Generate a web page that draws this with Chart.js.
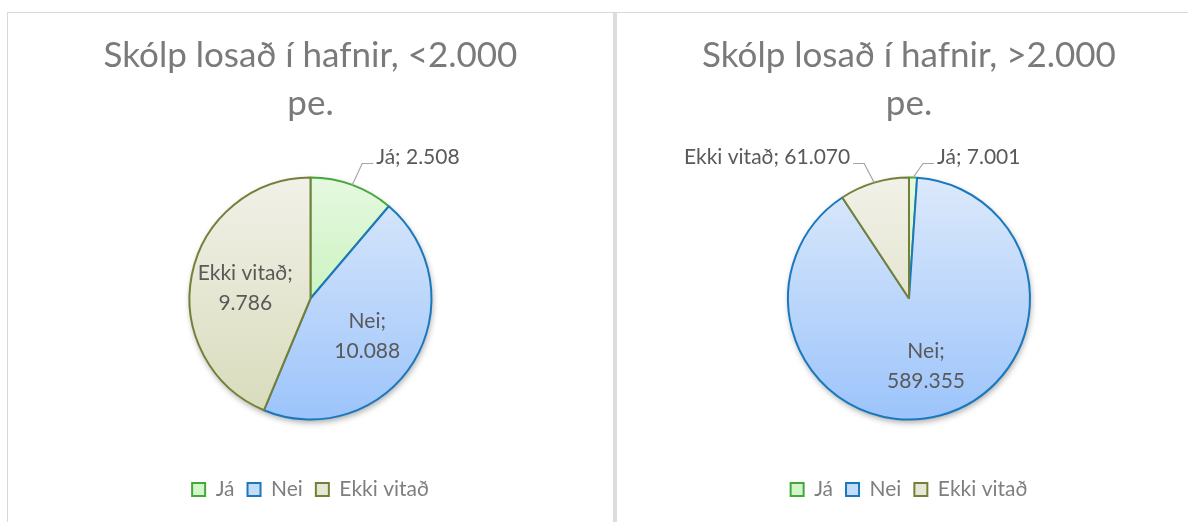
<!DOCTYPE html>
<html>
<head>
<meta charset="utf-8">
<script src="https://cdn.jsdelivr.net/npm/chart.js@4.4.1/dist/chart.umd.min.js"></script>
<style>
  body { margin: 0; background: #fff; width: 1188px; height: 522px; overflow: hidden; position: relative; }
  .frame { position: absolute; left: 7px; top: 12px; width: 1300px; height: 600px;
           border-top: 1px solid #d9d9d9; border-left: 1px solid #d9d9d9; }
  .divider { position: absolute; left: 613px; top: 13px; width: 4px; height: 600px; background: #dcdcdc; }
  .box { position: absolute; top: 13px; height: 509px; }
  #box1 { left: 8px; width: 605px; }
  #box2 { left: 617px; width: 571px; }
</style>
</head>
<body>
<div class="frame"></div>
<div class="divider"></div>
<div class="box" id="box1"><canvas id="chart1"></canvas></div>
<div class="box" id="box2"><canvas id="chart2"></canvas></div>
<script>
// data
const categories = ['Já', 'Nei', 'Ekki vitað'];
const smallPlants = [2508, 10088, 9786];
const largePlants = [7001, 589355, 61070];
const title1 = ['Skólp losað í hafnir, <2.000', 'pe.'];
const title2 = ['Skólp losað í hafnir, >2.000', 'pe.'];

// styles
const topColors = ['#e6f9e0', '#dce9fb', '#f1f1e8'];
const bottomColors = ['#b1eea3', '#9cc4fb', '#d8dbba'];
const legendFills = ['#d3f5ca', '#c4dcfb', '#e6e7d4'];
const edgeColors = ['#45a83a', '#1a78bd', '#748038'];
const pieRadius = 121;
const fontName = 'Lato';

function fmt(v) {
    return String(v).replace(/\B(?=(\d{3})+(?!\d))/g, '.');
}

function sliceFill(c) {
    const area = c.chart.chartArea;
    if (!area) return legendFills[c.dataIndex];
    const cy = (area.top + area.bottom) / 2;
    const g = c.chart.ctx.createLinearGradient(0, cy - pieRadius, 0, cy + pieRadius);
    g.addColorStop(0, topColors[c.dataIndex]);
    g.addColorStop(1, bottomColors[c.dataIndex]);
    return g;
}

// soft shadow under the pie
const pieShadow = {
    id: 'pieShadow',
    beforeDatasetsDraw(chart) {
        const arc = chart.getDatasetMeta(0).data[0];
        if (!arc) return;
        const ctx = chart.ctx;
        ctx.save();
        ctx.shadowColor = 'rgba(0,0,0,0.35)';
        ctx.shadowBlur = 6;
        ctx.shadowOffsetX = 1;
        ctx.shadowOffsetY = 3;
        ctx.fillStyle = '#fff';
        ctx.beginPath();
        ctx.arc(arc.x, arc.y, arc.outerRadius, 0, Math.PI * 2);
        ctx.fill();
        ctx.restore();
    }
};

// "Name; value" labels, small slices go outside with a leader line
const sliceLabels = {
    id: 'sliceLabels',
    afterDatasetsDraw(chart) {
        const ctx = chart.ctx;
        const values = chart.data.datasets[0].data;
        const total = values.reduce((a, b) => a + b, 0);
        ctx.save();
        ctx.font = '21px ' + fontName;
        ctx.fillStyle = '#595959';
        ctx.textBaseline = 'middle';
        chart.getDatasetMeta(0).data.forEach((arc, i) => {
            const p = arc.getProps(['x', 'y', 'startAngle', 'endAngle', 'outerRadius'], true);
            const mid = (p.startAngle + p.endAngle) / 2;
            const name = chart.data.labels[i];
            if (values[i] / total < 0.12) {
                const ex = p.x + Math.cos(mid) * p.outerRadius;
                const ey = p.y + Math.sin(mid) * p.outerRadius;
                const side = Math.cos(mid) >= 0 ? 1 : -1;
                const ly = p.y - p.outerRadius - 20;
                ctx.strokeStyle = '#a6a6a6';
                ctx.lineWidth = 1.2;
                ctx.beginPath();
                ctx.moveTo(ex, ey);
                ctx.lineTo(ex + side * 10, ly + 6);
                ctx.lineTo(ex + side * 21, ly + 6);
                ctx.stroke();
                ctx.textAlign = side > 0 ? 'left' : 'right';
                ctx.fillText(name + '; ' + fmt(values[i]), ex + side * 24, ly);
            } else {
                const r = p.outerRadius * 0.55;
                const cx = p.x + Math.cos(mid) * r;
                const cy = p.y + Math.sin(mid) * r + 3;
                ctx.textAlign = 'center';
                ctx.fillText(name + ';', cx, cy - 15);
                ctx.fillText(fmt(values[i]), cx, cy + 15);
            }
        });
        ctx.restore();
    }
};

function makePie(id, titleLines, values, padLeft) {
    return new Chart(document.getElementById(id), {
        type: 'pie',
        data: {
            labels: categories,
            datasets: [{
                data: values,
                backgroundColor: sliceFill,
                borderColor: edgeColors,
                borderWidth: 2,
                radius: pieRadius
            }]
        },
        options: {
            responsive: true,
            maintainAspectRatio: false,
            animation: false,
            layout: { padding: { left: padLeft, right: 0, top: 0, bottom: 12 } },
            plugins: {
                title: {
                    display: true,
                    text: titleLines,
                    color: '#7a7a7a',
                    font: { family: fontName, size: 35, weight: 'normal', lineHeight: 48 / 35 },
                    padding: { top: 19, bottom: 3 }
                },
                legend: {
                    position: 'bottom',
                    labels: {
                        color: '#7f7f7f',
                        font: { family: fontName, size: 21 },
                        boxWidth: 13,
                        boxHeight: 13,
                        padding: 13,
                        generateLabels(chart) {
                            return chart.data.labels.map((t, i) => ({
                                text: t,
                                fillStyle: legendFills[i],
                                strokeStyle: edgeColors[i],
                                lineWidth: 2,
                                fontColor: '#7f7f7f',
                                hidden: false,
                                index: i
                            }));
                        }
                    }
                },
                tooltip: { enabled: false }
            }
        },
        plugins: [pieShadow, sliceLabels]
    });
}

makePie('chart1', title1, smallPlants, 0);
makePie('chart2', title2, largePlants, 13);
</script>
</body>
</html>
